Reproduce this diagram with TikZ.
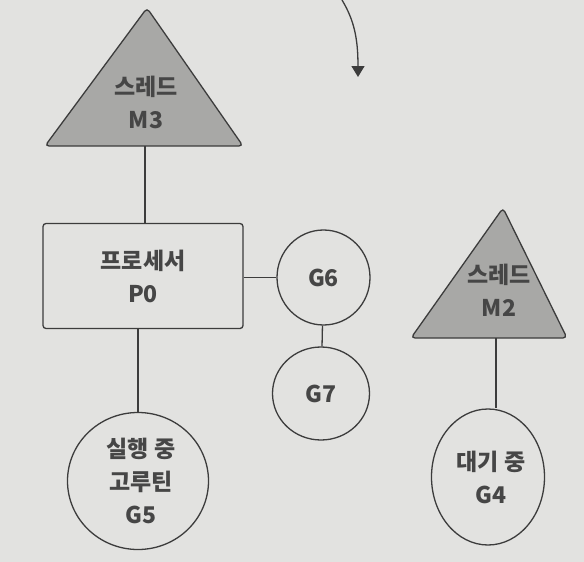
\documentclass[tikz,border=0pt]{standalone}
\usepackage{fontspec}
\setmainfont{Noto Sans CJK KR}
\usetikzlibrary{arrows.meta,shapes.geometric}
\definecolor{paper}{HTML}{E2E2E0}
\definecolor{tri}{HTML}{A8A8A6}
\definecolor{ink}{HTML}{3C3C3C}
\definecolor{txt}{HTML}{464646}
\begin{document}
\begin{tikzpicture}[x=1pt,y=-1pt,
  every node/.style={font=\bfseries\fontsize{23}{33}\selectfont, text=txt, align=center},
  ln/.style={draw=ink, line width=1.3pt},
  trinode/.style={ln, fill=tri, rounded corners=4pt},
  gcirc/.style={ellipse, ln, inner sep=0pt}]
\fill[paper] (0,0) rectangle (584,562);
\useasboundingbox (0,0) rectangle (584,562);
% arrow
\coordinate (a0) at (342,0);
\coordinate (a1) at (358,77);
\draw[ln, -{Triangle[width=13pt,length=11pt]}] (a0) .. controls (354,20) and (358,38) .. (a1);
% M3 triangle
\draw[trinode] (147,8) -- (243,146) -- (45,146) -- cycle;
\node (m3) at (146,102) {스레드\\M3};
\coordinate (m3b) at (145,146);
% P0 box
\node[ln, rounded corners=3pt, minimum width=200pt, minimum height=105pt] (p0) at (143,276) {프로세서\\P0};
% G6, G7
\node[gcirc, minimum width=93pt, minimum height=95pt] (g6) at (323.5,277.5) {G6};
\node[gcirc, minimum width=97pt, minimum height=93pt] (g7) at (321,393.5) {G7};
% G5
\node[gcirc, minimum width=141pt, minimum height=137pt] (g5) at (138,481) {\hspace*{6pt}실행 중\\\hspace*{6pt}고루틴\\\hspace*{6pt}G5};
% M2 triangle
\draw[trinode] (503,208) -- (567,338) -- (411,338) -- cycle;
\node (m2) at (499,290) {스레드\\M2};
\coordinate (m2b) at (496,338);
% G4
\node[gcirc, minimum width=113pt, minimum height=136pt] (g4) at (488,477) {\hspace*{6pt}대기 중\\\hspace*{6pt}G4};
% connectors
\draw[ln] (m3b) -- (p0.north -| m3b);
\draw[ln] (p0.east |- g6.west) -- (g6.west);
\draw[ln] (g6) -- (g7);
\draw[ln] (p0.south -| g5.north) -- (g5.north);
\draw[ln] (m2b) -- (m2b |- g4.north);
\end{tikzpicture}
\end{document}
